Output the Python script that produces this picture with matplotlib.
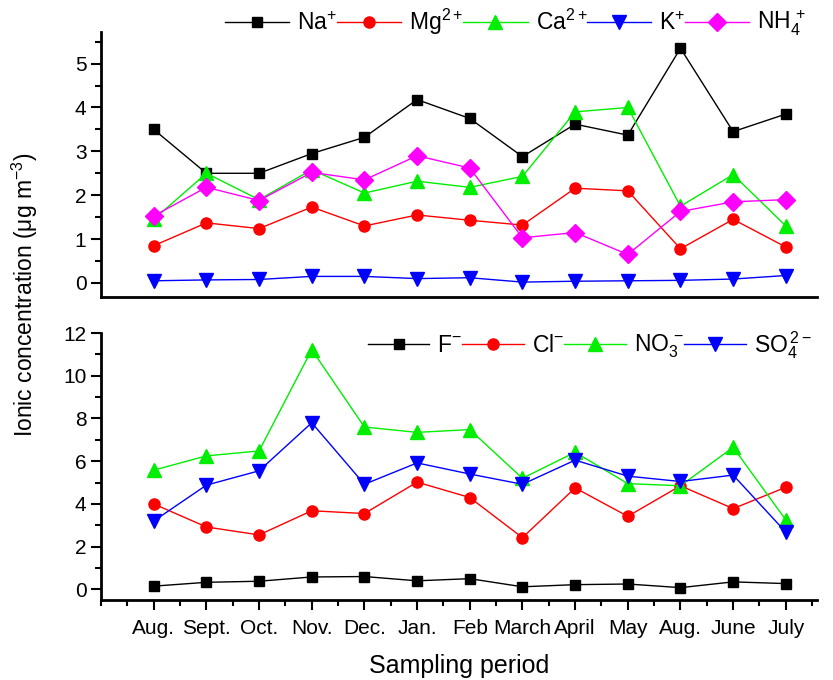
import numpy as np
from matplotlib import pyplot as plt
from matplotlib.ticker import MultipleLocator

plt.rcParams['font.family'] = ['Liberation Sans', 'DejaVu Sans']
plt.rcParams['mathtext.fontset'] = 'custom'
plt.rcParams['mathtext.rm'] = 'Liberation Sans'
plt.rcParams['mathtext.it'] = 'Liberation Sans'

months = ["Aug.", "Sept.", "Oct.", "Nov.", "Dec.", "Jan.", "Feb", "March",
          "April", "May", "Aug.", "June", "July"]

# cations
na = [3.5, 2.5, 2.5, 2.95, 3.32, 4.18, 3.75, 2.88, 3.62, 3.37, 5.35, 3.45, 3.85]
mg = [0.85, 1.37, 1.24, 1.73, 1.3, 1.55, 1.43, 1.32, 2.16, 2.1, 0.78, 1.45, 0.82]
ca = [1.45, 2.5, 1.9, 2.58, 2.05, 2.32, 2.18, 2.43, 3.9, 4.0, 1.75, 2.47, 1.3]
k = [0.05, 0.07, 0.08, 0.15, 0.15, 0.1, 0.12, 0.02, 0.04, 0.05, 0.06, 0.09, 0.17]
nh4 = [1.53, 2.18, 1.88, 2.52, 2.35, 2.9, 2.62, 1.03, 1.15, 0.65, 1.63, 1.85, 1.9]

# anions
f = [0.15, 0.33, 0.38, 0.58, 0.6, 0.4, 0.5, 0.12, 0.22, 0.25, 0.08, 0.35, 0.27]
cl = [4.0, 2.92, 2.55, 3.68, 3.55, 5.02, 4.3, 2.42, 4.75, 3.42, 4.85, 3.78, 4.78]
no3 = [5.58, 6.25, 6.48, 11.22, 7.6, 7.35, 7.48, 5.2, 6.42, 4.95, 4.85, 6.65, 3.25]
so4 = [3.2, 4.88, 5.55, 7.8, 4.92, 5.92, 5.4, 4.92, 6.05, 5.3, 5.05, 5.35, 2.68]

top_series = [na, mg, ca, k, nh4]
top_labels = [r"Na$^{+}$", r"Mg$^{2+}$", r"Ca$^{2+}$", r"K$^{+}$", r"NH$_4^{\,+}$"]
bot_series = [f, cl, no3, so4]
bot_labels = [r"F$^{-}$", r"Cl$^{-}$", r"NO$_3^{\,-}$", r"SO$_4^{\,2-}$"]

colors = ["black", "#ff0000", "#00ee00", "#0000ff", "#ff00ff"]
markers = ["s", "o", "^", "v", "D"]
msizes = [6.5, 8, 10, 10, 9]

X = np.arange(1, len(months) + 1)

fig = plt.figure(figsize=(8.33, 6.8), dpi=100)
ax1 = fig.add_axes([0.1213, 0.5632, 0.860, 0.3897])
ax2 = fig.add_axes([0.1213, 0.1176, 0.860, 0.3926])

for i, s in enumerate(top_series):
    ax1.plot(X, s, color=colors[i], marker=markers[i], ms=msizes[i], lw=1,
             label=top_labels[i])
for i, s in enumerate(bot_series):
    ax2.plot(X, s, color=colors[i], marker=markers[i], ms=msizes[i], lw=1,
             label=bot_labels[i])

for ax in (ax1, ax2):
    ax.spines["top"].set_visible(False)
    ax.spines["right"].set_visible(False)
    ax.spines["left"].set_linewidth(2)
    ax.spines["bottom"].set_linewidth(2)
    ax.set_xlim(0, 13.6)
    ax.tick_params(which="major", direction="out", length=7, width=1.5, labelsize=15)
    ax.tick_params(which="minor", direction="out", length=4, width=1.5)

ax1.set_ylim(-0.32, 5.72)
ax1.yaxis.set_major_locator(MultipleLocator(1))
ax1.yaxis.set_minor_locator(MultipleLocator(0.5))
ax1.tick_params(axis="x", which="both", bottom=False, labelbottom=False)

ax2.set_ylim(-0.5, 12)
ax2.yaxis.set_major_locator(MultipleLocator(2))
ax2.yaxis.set_minor_locator(MultipleLocator(1))
ax2.set_xticks(X)
ax2.set_xticklabels(months)
ax2.xaxis.set_minor_locator(MultipleLocator(0.5))
ax2.tick_params(axis="x", which="major", pad=7)
ax2.set_xlabel("Sampling period", fontsize=18, labelpad=11)

ax1.legend(loc="upper right", bbox_to_anchor=(0.997, 1.13), ncol=5, frameon=False,
           fontsize=16.5, handlelength=2.8, handletextpad=0.35, columnspacing=0.0,
           borderaxespad=0)
ax2.legend(loc="upper right", bbox_to_anchor=(1.005, 1.05), ncol=4, frameon=False,
           fontsize=16.5, handlelength=2.7, handletextpad=0.35, columnspacing=0.0,
           borderaxespad=0)

fig.text(0.03, 0.567, r"Ionic concentration ($\mu$g m$^{-3}$)", rotation=90,
         fontsize=16.5, ha="center", va="center")

plt.savefig("out.png", dpi=100)
